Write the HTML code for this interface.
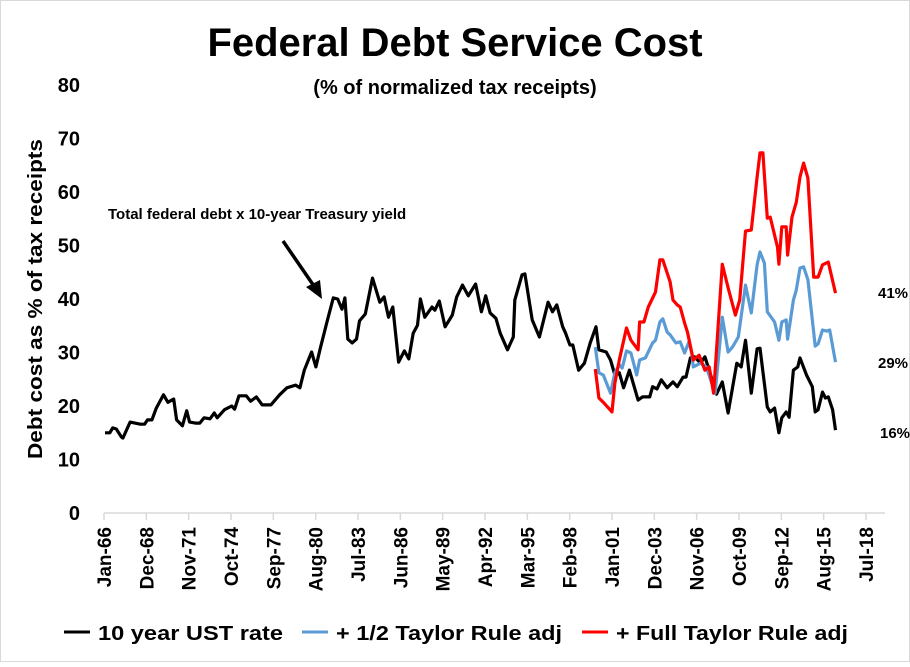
<!DOCTYPE html>
<html><head><meta charset="utf-8"><style>
body{margin:0;background:#fff;}
svg text{font-family:"Liberation Sans",sans-serif;font-weight:bold;}
</style></head><body>
<svg id="chart" width="910" height="662" xmlns="http://www.w3.org/2000/svg">
<rect x="0.5" y="0.5" width="909" height="661" fill="#fff" stroke="#d9d9d9"/>
<text x="455" y="56" text-anchor="middle" font-size="40" textLength="495" lengthAdjust="spacingAndGlyphs">Federal Debt Service Cost</text>
<text x="455" y="94" text-anchor="middle" font-size="20">(% of normalized tax receipts)</text>
<text transform="translate(42,299) rotate(-90)" text-anchor="middle" font-size="20" textLength="320" lengthAdjust="spacingAndGlyphs">Debt cost as % of tax receipts</text>
<g id="yticks"></g><g id="xticks"></g><g id="series"></g>
<text x="108" y="219" font-size="15">Total federal debt x 10-year Treasury yield</text>
<g>
<line x1="283" y1="241" x2="316" y2="289" stroke="#000" stroke-width="3.5"/>
<polygon points="322,299 306,287 320,280" fill="#000"/>
</g>
<text x="878" y="298" font-size="15">41%</text>
<text x="878" y="368" font-size="15">29%</text>
<text x="880" y="438" font-size="15">16%</text>
<g>
<line x1="64" y1="632" x2="90" y2="632" stroke="#000" stroke-width="3"/>
<text x="98" y="640" font-size="20" textLength="185" lengthAdjust="spacingAndGlyphs">10 year UST rate</text>
<line x1="302" y1="632" x2="328" y2="632" stroke="#5b9bd5" stroke-width="3"/>
<text x="336" y="640" font-size="20" textLength="226" lengthAdjust="spacingAndGlyphs">+ 1/2 Taylor Rule adj</text>
<line x1="582" y1="632" x2="608" y2="632" stroke="#ff0000" stroke-width="3"/>
<text x="616" y="640" font-size="20" textLength="232" lengthAdjust="spacingAndGlyphs">+ Full Taylor Rule adj</text>
</g>
</svg>
<script>
const yTicks=[0,10,20,30,40,50,60,70,80];
const xLabels=["Jan-66","Dec-68","Nov-71","Oct-74","Sep-77","Aug-80","Jul-83","Jun-86","May-89","Apr-92","Mar-95","Feb-98","Jan-01","Dec-03","Nov-06","Oct-09","Sep-12","Aug-15","Jul-18"];
const blackT=[1966.07,1966.4,1966.6,1966.85,1967.2,1967.3,1967.8,1968.5,1968.8,1969.0,1969.3,1969.6,1970.1,1970.4,1970.8,1971.0,1971.4,1971.7,1971.9,1972.3,1972.6,1972.9,1973.3,1973.6,1973.8,1974.3,1974.8,1975.0,1975.3,1975.8,1976.1,1976.5,1976.9,1977.5,1978.1,1978.6,1979.2,1979.5,1979.8,1980.3,1980.6,1980.9,1981.4,1981.8,1982.1,1982.4,1982.6,1982.8,1983.1,1983.4,1983.6,1984.0,1984.5,1985.0,1985.3,1985.6,1985.9,1986.3,1986.7,1987.0,1987.3,1987.6,1987.8,1988.1,1988.6,1988.8,1989.1,1989.5,1990.0,1990.3,1990.7,1991.1,1991.6,1992.0,1992.3,1992.6,1993.0,1993.3,1993.8,1994.2,1994.3,1994.8,1995.0,1995.5,1996.0,1996.6,1996.9,1997.2,1997.6,1997.8,1998.1,1998.3,1998.7,1999.1,1999.5,1999.9,2000.1,2000.6,2000.9,2001.2,2001.5,2001.8,2002.2,2002.8,2003.1,2003.6,2003.8,2004.1,2004.4,2004.8,2005.2,2005.5,2005.9,2006.1,2006.4,2006.7,2007.1,2007.4,2007.7,2008.2,2008.6,2009.0,2009.3,2009.6,2009.9,2010.2,2010.6,2011.0,2011.2,2011.7,2011.9,2012.2,2012.5,2012.7,2013.0,2013.2,2013.5,2013.8,2013.95,2014.4,2014.8,2015.0,2015.2,2015.5,2015.7,2015.9,2016.2,2016.4];
const blackV=[15,15,15.9,15.7,14.2,14,17,16.6,16.6,17.4,17.4,19.6,22.1,20.7,21.3,17.4,16.3,19.1,17,16.8,16.8,17.8,17.6,18.7,17.8,19.3,20,19.4,21.9,21.9,20.9,21.7,20.2,20.2,22.1,23.4,23.9,23.4,26.7,30.1,27.3,30.8,36.1,40.2,40,38.1,40.2,32.5,31.8,32.5,35.9,37.2,43.9,39.4,40.4,36.6,38.5,28.2,30.3,28.8,33.6,35.1,40,36.6,38.5,37.9,39.6,34.8,37,40.4,42.6,40.6,42.8,37.6,40.6,37.4,36.4,33.6,30.5,32.9,39.8,44.5,44.7,36.1,32.9,39.4,37.6,38.9,34.8,33.6,31.4,31.4,26.7,28,31.8,34.8,30.5,30.1,28.6,25.8,26.2,23.4,26.7,21.1,21.7,21.7,23.6,23.2,24.9,23.4,24.5,23.6,25.4,25.4,29,29.2,28,29.2,26.7,22.2,24.5,18.7,23.4,28,27.3,32.3,22.4,30.7,30.8,19.8,18.9,19.6,15,17.8,18.9,17.9,26.7,27.3,29,25.8,23.6,18.9,19.3,22.6,21.5,21.7,19.3,15.5];
const halfT=[1999.85,2000.1,2000.4,2000.9,2001.2,2001.5,2001.7,2002.0,2002.3,2002.7,2002.9,2003.3,2003.8,2004.0,2004.3,2004.5,2004.8,2005.0,2005.4,2005.7,2006.0,2006.3,2006.5,2006.6,2007.1,2007.5,2008.1,2008.6,2009.0,2009.3,2009.7,2010.2,2010.6,2011.0,2011.2,2011.5,2011.7,2012.2,2012.5,2012.7,2013.0,2013.1,2013.5,2013.7,2013.95,2014.2,2014.5,2015.0,2015.2,2015.5,2015.8,2016.0,2016.4];
const halfV=[31,26.2,25.8,22.4,26.2,27.7,27.1,30.3,29.9,25.8,28.6,29,31.8,32.3,35.7,36.3,33.8,33.3,31.8,32,29.9,32,29.9,27.3,28,27.3,22.4,36.6,30.1,31,32.9,42.6,37.4,46.4,48.8,46.7,37.6,35.7,32.3,35.7,36.1,32.5,39.8,41.7,45.8,46,43.6,31.2,31.6,34.2,34,34.2,28.2];
const fullT=[1999.85,2000.1,2000.4,2001.0,2001.2,2001.5,2002.0,2002.3,2002.8,2002.9,2003.2,2003.5,2004.0,2004.3,2004.5,2005.0,2005.2,2005.5,2005.7,2006.0,2006.2,2006.6,2007.0,2007.4,2007.7,2008.0,2008.6,2009.0,2009.5,2009.8,2010.2,2010.6,2011.0,2011.2,2011.4,2011.7,2011.9,2012.4,2012.5,2012.7,2013.0,2013.1,2013.4,2013.7,2013.95,2014.2,2014.5,2014.9,2015.2,2015.5,2015.9,2016.4];
const fullV=[26.9,21.5,20.7,18.9,24.3,28.6,34.6,32.3,30.5,35.7,35.7,38.5,41.3,47.3,47.3,43.2,39.8,38.9,38.5,35.5,33.8,28.6,29.5,26.7,27.3,22.4,46.5,42.1,37,39.8,52.7,52.9,62.8,67.3,67.3,55.1,55.3,49.7,46.5,53.5,53.5,48.2,55.3,58.1,62.8,65.4,62.6,44.1,44.1,46.4,46.9,41.1];

const NS="http://www.w3.org/2000/svg";
const X0=104,X1=866,Y0=513,Y80=85;
function xs(t){return X0+(t-1966)*(X1-X0)/52.5;}
function ys(v){return Y0-v*(Y0-Y80)/80;}
const yg=document.getElementById('yticks');
yTicks.forEach(v=>{
  const t=document.createElementNS(NS,'text');
  
  
  t.setAttribute('x',80);t.setAttribute('y',ys(v)+7);
  t.setAttribute('text-anchor','end');t.setAttribute('font-size','20');
  t.textContent=v;yg.appendChild(t);
});
const xg=document.getElementById('xticks');
const ax=document.createElementNS(NS,'line');


ax.setAttribute('x1',X0);ax.setAttribute('x2',885);ax.setAttribute('y1',Y0);ax.setAttribute('y2',Y0);
ax.setAttribute('stroke','#d9d9d9');ax.setAttribute('stroke-width','1.5');xg.appendChild(ax);
xLabels.forEach((l,i)=>{
  const x=X0+i*(X1-X0)/18;
  const tk=document.createElementNS(NS,'line');
  
  
  tk.setAttribute('x1',x);tk.setAttribute('x2',x);tk.setAttribute('y1',Y0);tk.setAttribute('y2',Y0+7);
  tk.setAttribute('stroke','#d9d9d9');tk.setAttribute('stroke-width','1.5');xg.appendChild(tk);
  const t=document.createElementNS(NS,'text');
  
  
  t.setAttribute('transform','translate('+(x+7)+','+(Y0+14)+') rotate(-90)');
  t.setAttribute('text-anchor','end');t.setAttribute('font-size','19');
  t.textContent=l;xg.appendChild(t);
});
const sg=document.getElementById('series');
function drawLine(T,V,color,name){
  const p=document.createElementNS(NS,'polyline');
  
  
  p.setAttribute('points',T.map((t,i)=>xs(t).toFixed(1)+','+ys(V[i]).toFixed(1)).join(' '));
  p.setAttribute('fill','none');p.setAttribute('stroke',color);p.setAttribute('stroke-width','3.2');
  p.setAttribute('stroke-linejoin','round');
  sg.appendChild(p);
}
drawLine(blackT,blackV,'#000','series-10yr-ust');
drawLine(halfT,halfV,'#5b9bd5','series-half-taylor');
drawLine(fullT,fullV,'#ff0000','series-full-taylor');
</script>
</body></html>
